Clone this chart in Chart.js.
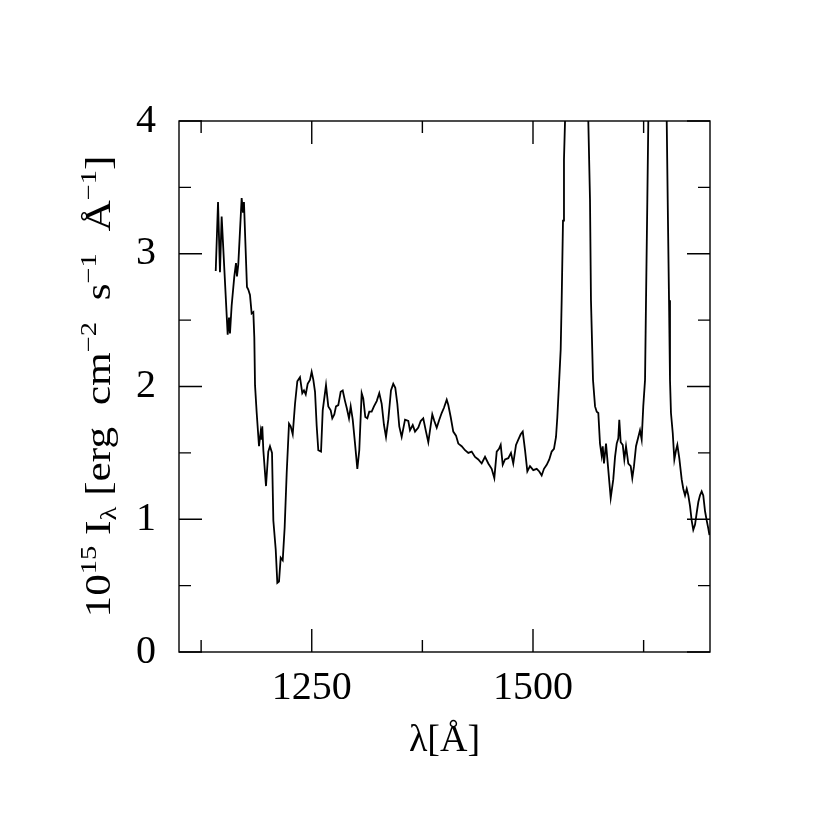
<!DOCTYPE html>
<html lang="en">
<head>
  <meta charset="UTF-8" />
  <title>Spectrum I_lambda</title>
  <script src="https://cdn.jsdelivr.net/npm/chart.js"></script>
  <style>
    html,body { margin:0; padding:0; background:#fff; }
    #box      { width:830px; height:830px; }
  </style>
</head>
<body>
<div id="box"><canvas id="spec"></canvas></div>

<script>
  /* ---------- data ---------- */
  const wavelength = [
    1141.5,1144.1,1146.3,1148.2,1155.0,1156.5,1157.6,1159.5,1162.5,1164.4,1165.5,1167.0,1168.6,1170.8,1172.3,1173.4,
    1174.6,1176.8,1178.3,1180.2,1182.1,1184.0,1185.1,1185.9,1187.8,1190.4,1192.3,1193.4,1194.1,1195.3,1198.3,1200.9,
    1202.8,1205.1,1206.6,1209.3,1211.1,1213.0,1214.9,1217.2,1219.4,1221.7,1224.3,1226.2,1228.5,1231.1,1233.7,1236.7,
    1239.3,1241.2,1243.2,1245.4,1248.0,1249.9,1251.8,1253.7,1255.6,1257.4,1260.5,1262.4,1266.1,1268.7,1271.4,1273.2,
    1275.5,1277.4,1280.0,1282.7,1285.0,1287.6,1289.5,1292.1,1294.0,1296.3,1298.9,1301.5,1303.7,1306.4,1308.2,1310.5,
    1312.8,1315.0,1317.7,1320.3,1323.4,1326.3,1329.0,1331.6,1333.9,1336.5,1339.5,1342.1,1344.4,1346.7,1348.9,1351.6,
    1355.4,1359.1,1361.0,1364.1,1366.7,1370.4,1373.1,1376.0,1379.1,1381.7,1383.6,1386.2,1388.5,1391.2,1394.1,1396.8,
    1399.4,1402.5,1404.3,1407.0,1409.9,1413.0,1415.6,1419.4,1423.2,1426.9,1430.7,1434.5,1438.2,1442.0,1445.8,1449.5,
    1453.3,1456.3,1459.0,1461.6,1463.5,1465.8,1468.4,1472.1,1475.1,1477.7,1480.8,1483.4,1486.1,1488.4,1491.0,1493.6,
    1496.6,1500.3,1504.2,1507.1,1509.8,1512.4,1515.5,1518.4,1521.1,1523.7,1526.0,1527.5,1529.4,1531.3,1532.4,1533.9,
    1535.0,1536.2,1538.4,1543.0,1549.0,1556.0,1560.5,1562.5,1564.4,1565.5,1567.8,1570.1,1572.0,1573.8,1575.7,1577.6,
    1578.8,1580.2,1582.5,1585.1,1587.8,1590.7,1592.7,1594.6,1596.4,1597.5,1599.1,1601.4,1603.2,1605.1,1607.7,1610.4,
    1612.2,1614.1,1616.4,1619.0,1620.9,1622.8,1624.6,1626.6,1627.7,1629.2,1630.3,1634.0,1640.0,1646.0,1651.1,1652.5,
    1653.7,1654.8,1655.9,1657.9,1659.7,1661.6,1663.1,1665.3,1668.0,1669.8,1671.8,1673.7,1675.5,1677.4,1679.3,1681.1,
    1683.1,1685.0,1686.8,1688.7,1690.6,1692.4,1694.4,1696.3,1698.1,1699.4
  ];
  const flux = [
    2.87,3.39,2.86,3.28,2.39,2.52,2.40,2.61,2.83,2.93,2.83,2.92,3.13,3.42,3.31,3.39,
    3.16,2.75,2.73,2.69,2.55,2.56,2.37,2.01,1.80,1.55,1.66,1.60,1.70,1.52,1.25,1.51,
    1.55,1.50,0.99,0.77,0.52,0.53,0.71,0.69,0.94,1.35,1.72,1.70,1.64,1.87,2.04,2.07,
    1.95,1.97,1.94,2.02,2.05,2.11,2.05,1.96,1.70,1.52,1.51,1.82,2.01,1.85,1.82,1.76,
    1.79,1.85,1.86,1.96,1.97,1.89,1.84,1.76,1.85,1.75,1.57,1.38,1.52,1.95,1.91,1.77,
    1.76,1.81,1.81,1.85,1.89,1.95,1.87,1.71,1.62,1.75,1.97,2.02,1.99,1.87,1.70,1.62,
    1.75,1.74,1.67,1.71,1.66,1.69,1.74,1.76,1.66,1.58,1.67,1.79,1.74,1.69,1.75,1.80,
    1.84,1.90,1.86,1.77,1.66,1.63,1.57,1.55,1.52,1.50,1.51,1.47,1.45,1.42,1.47,1.42,
    1.38,1.31,1.51,1.53,1.56,1.41,1.45,1.46,1.50,1.42,1.56,1.60,1.64,1.66,1.52,1.36,
    1.40,1.37,1.38,1.36,1.33,1.38,1.41,1.45,1.51,1.53,1.62,1.77,2.02,2.28,2.65,3.25,
    3.71,4.00,4.46,6.20,7.50,6.00,4.60,4.00,3.41,2.65,2.05,1.85,1.81,1.80,1.57,1.48,
    1.55,1.42,1.57,1.37,1.16,1.30,1.47,1.57,1.61,1.75,1.58,1.56,1.45,1.55,1.42,1.40,
    1.31,1.40,1.55,1.62,1.67,1.60,1.85,2.05,2.65,3.41,4.00,5.20,6.00,5.20,4.00,3.25,
    2.65,2.05,1.80,1.65,1.45,1.52,1.56,1.46,1.30,1.23,1.18,1.23,1.18,1.10,0.99,0.92,
    0.96,1.05,1.13,1.18,1.21,1.18,1.06,0.99,0.93,0.88
  ];

  const xLabelTicks  = [1250, 1500];
  const xMinorTicks  = [1125, 1375, 1625];
  const yLabelTicks  = [0, 1, 2, 3, 4];
  const yMinorTicks  = [0.5, 1.5, 2.5, 3.5];

  const SERIF = '"Liberation Serif", "DejaVu Serif", serif';

  /* ---------- frame, inward ticks, axis titles ---------- */
  const framePlugin = {
    id:'frame',
    afterDraw(chart) {
      const {ctx, chartArea:a, scales:{x, y}} = chart;
      ctx.save();
      ctx.strokeStyle = '#000';
      ctx.lineWidth = 1.4;
      ctx.strokeRect(a.left, a.top, a.right - a.left, a.bottom - a.top);

      const tickX = (v, len) => {
        const px = x.getPixelForValue(v);
        ctx.beginPath();
        ctx.moveTo(px, a.bottom); ctx.lineTo(px, a.bottom - len);
        ctx.moveTo(px, a.top);    ctx.lineTo(px, a.top + len);
        ctx.stroke();
      };
      const tickY = (v, len) => {
        const py = y.getPixelForValue(v);
        ctx.beginPath();
        ctx.moveTo(a.left, py);  ctx.lineTo(a.left + len, py);
        ctx.moveTo(a.right, py); ctx.lineTo(a.right - len, py);
        ctx.stroke();
      };
      xLabelTicks.forEach(v => tickX(v, 23));
      xMinorTicks.forEach(v => tickX(v, 12));
      yLabelTicks.forEach(v => tickY(v, 23));
      yMinorTicks.forEach(v => tickY(v, 12));

      /* x title */
      ctx.fillStyle = '#000';
      ctx.font = `38px ${SERIF}`;
      ctx.textAlign = 'center';
      ctx.textBaseline = 'middle';
      ctx.fillText('λ[Å]', (a.left + a.right) / 2, 741);

      /* y title with super/subscripts, stretched along its length */
      const parts = [
        ['10','n'],['15','sup'],[' I','n'],['λ','sub'],[' [erg  cm','n'],['−2','sup'],
        ['  s','n'],['−1','sup'],['  Å','n'],['−1','sup'],[']','n']
      ];
      const base = 35;
      const fontFor = k => `${k === 'n' ? base : Math.round(base * 0.66)}px ${SERIF}`;
      let w = 0;
      parts.forEach(([t,k]) => { ctx.font = fontFor(k); w += ctx.measureText(t).width; });
      const target = 462;
      ctx.translate(98, (a.top + a.bottom) / 2);
      ctx.rotate(-Math.PI / 2);
      ctx.scale(target / w, 1);
      ctx.textAlign = 'left';
      ctx.textBaseline = 'alphabetic';
      let cx = -w / 2;
      const baseY = base * 0.33;
      parts.forEach(([t,k]) => {
        ctx.font = fontFor(k);
        const dy = k === 'sup' ? -base * 0.4 : k === 'sub' ? base * 0.18 : 0;
        ctx.fillText(t, cx, baseY + dy);
        cx += ctx.measureText(t).width;
      });
      ctx.restore();
    }
  };

  const points = wavelength.map((l, i) => ({x:l, y:flux[i]}));

  new Chart(document.getElementById('spec').getContext('2d'), {
    type:'line',
    data:{ datasets:[{ data:points, borderColor:'#000', borderWidth:1.8,
                       pointRadius:0, tension:0, fill:false }] },
    options:{
      responsive:true, maintainAspectRatio:false, animation:false,
      layout:{ padding:{ top:121, right:120, left:0, bottom:0 } },
      plugins:{ legend:{display:false}, tooltip:{enabled:false} },
      scales:{
        x:{ type:'linear', min:1100, max:1700,
            grid:{ display:false }, border:{ display:false },
            afterBuildTicks: s => { s.ticks = xLabelTicks.map(v => ({value:v})); },
            afterFit: s => { s.height = 178; },
            ticks:{ padding:4, color:'#000', maxRotation:0,
                    callback: v => String(v),
                    font:{ family:SERIF, size:40 } } },
        y:{ min:0, max:4,
            grid:{ display:false }, border:{ display:false },
            afterBuildTicks: s => { s.ticks = yLabelTicks.map(v => ({value:v})); },
            afterFit: s => { s.width = 179; },
            ticks:{ padding:15, color:'#000', callback: v => String(v),
                    font:{ family:SERIF, size:40 } } }
      }
    },
    plugins:[framePlugin]
  });
</script>
</body>
</html>
